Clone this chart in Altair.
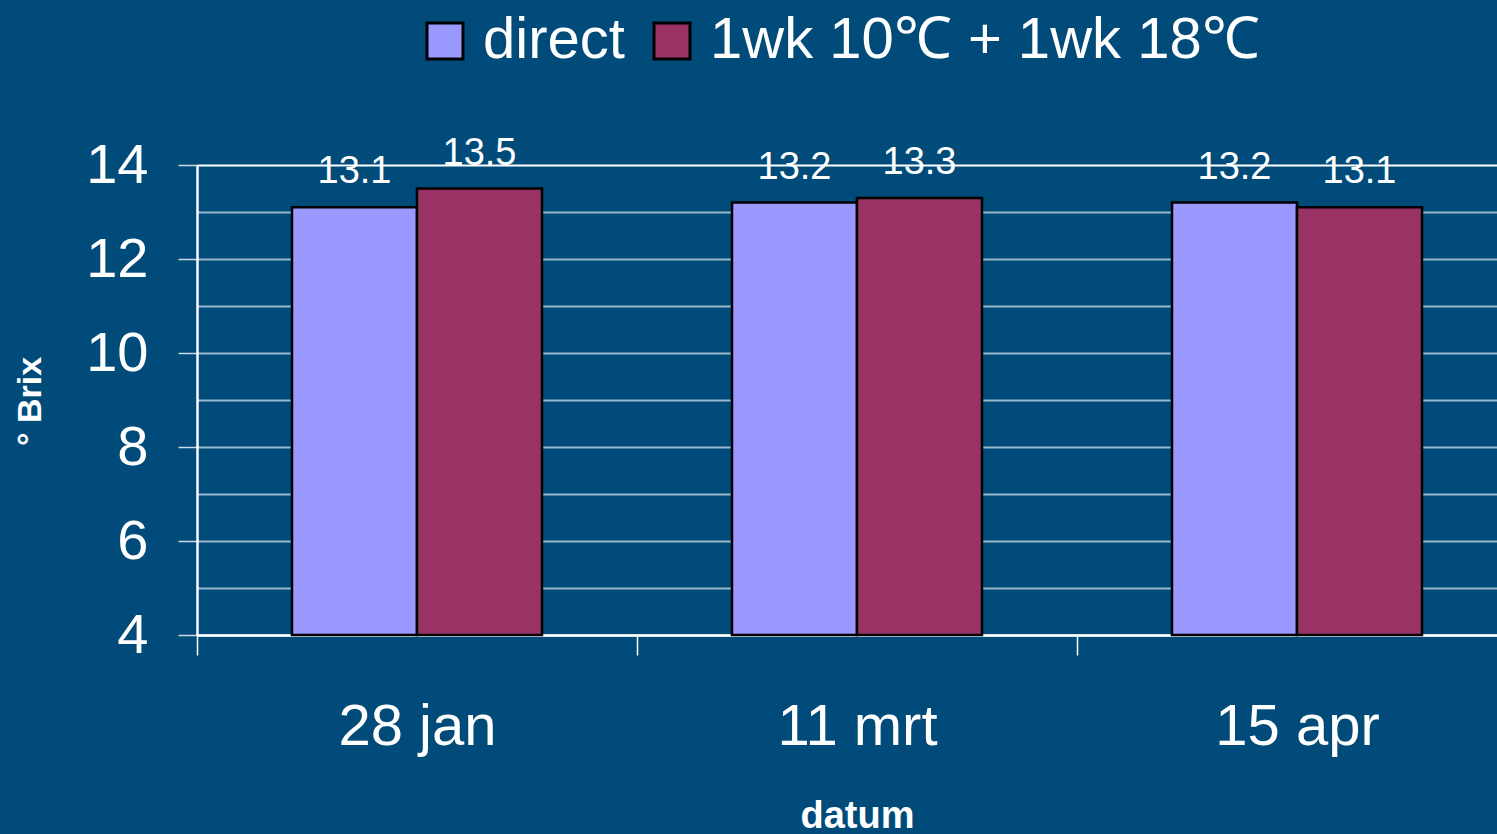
import altair as alt
import pandas as pd

dates = ["28 jan", "11 mrt", "15 apr"]
series = ["direct", "1wk 10℃ + 1wk 18℃"]
direct_vals = [13.1, 13.2, 13.2]
combo_vals = [13.5, 13.3, 13.1]
y_ticks = list(range(4, 15))
colors = ["#9999FF", "#993366"]

rows = []
for d, a, b in zip(dates, direct_vals, combo_vals):
    rows.append({"datum": d, "serie": series[0], "brix": a})
    rows.append({"datum": d, "serie": series[1], "brix": b})
df = pd.DataFrame(rows)

FONT = "Liberation Sans"
BG = "#004B7A"

# paint the page background the same colour as the chart, without the white page margin
try:
    import altair.utils.html as _h

    def _wrap(orig):
        def _render(*a, **k):
            html = orig(*a, **k)
            style = "<style>html, body { background: %s; margin: 0; overflow: hidden; }</style>" % BG
            if "<head>" in html:
                return html.replace("<head>", "<head>\n" + style, 1)
            return html
        return _render

    for _t in list(_h.TEMPLATES.values()):
        _t.render = _wrap(_t.render)
except Exception:
    pass

x_enc = alt.X(
    "datum:N",
    sort=dates,
    scale=alt.Scale(range=[0, 1320], paddingInner=0, paddingOuter=0),
    axis=alt.Axis(
        title="datum",
        labelAngle=0,
        labelFontSize=58,
        labelFont=FONT,
        labelColor="white",
        labelPadding=43,
        tickBand="extent",
        tickSize=20,
        tickColor="white",
        tickWidth=1.5,
        domainColor="white",
        domainWidth=2.5,
        titleFont=FONT,
        titleFontSize=38,
        titleFontWeight="bold",
        titleColor="white",
        titleBaseline="alphabetic",
        titleY=192,
        titleX=660,
        titleAlign="center",
        grid=False,
    ),
)
xoff = alt.XOffset("serie:N", sort=series, scale=alt.Scale(paddingInner=0, paddingOuter=0.76))

y_enc = alt.Y(
    "brix:Q",
    scale=alt.Scale(domain=[4, 14], zero=False, nice=False),
    axis=alt.Axis(
        title="° Brix",
        values=y_ticks,
        labelExpr="datum.value % 2 == 0 ? datum.label : ''",
        labelFontSize=56,
        labelFont=FONT,
        labelColor="white",
        labelPadding=30,
        tickSize=19,
        tickColor="white",
        tickWidth=1.5,
        tickOpacity={"condition": {"test": "datum.value % 2 == 1", "value": 0}, "value": 0.8},
        domainColor="white",
        domainWidth=2.5,
        grid=True,
        gridColor="white",
        gridWidth=2,
        gridOpacity={"condition": {"test": "datum.value == 4 || datum.value == 14", "value": 1}, "value": 0.6},
        titleFont=FONT,
        titleFontSize=34,
        titleFontWeight="bold",
        titleColor="white",
        titleAngle=270,
        titleAlign="center",
        titleBaseline="middle",
        titleX=-167,
        titleY=236,
    ),
)

color_enc = alt.Color(
    "serie:N",
    sort=series,
    scale=alt.Scale(domain=series, range=colors),
    legend=alt.Legend(
        title=None,
        orient="none",
        direction="horizontal",
        legendX=219,
        legendY=-153,
        padding=0,
        symbolType="square",
        symbolSize=1296,
        symbolStrokeColor="black",
        symbolStrokeWidth=3,
        symbolOpacity=1,
        labelFont=FONT,
        labelFontSize=58,
        labelColor="white",
        labelOffset=9,
        labelLimit=1000,
        columnPadding=18,
    ),
)

bars = alt.Chart(df).mark_bar(stroke="black", strokeWidth=2.5, opacity=1).encode(
    x=x_enc,
    xOffset=xoff,
    y=y_enc,
    y2=alt.datum(4),
    color=color_enc,
)

labels = alt.Chart(df).mark_text(
    dy=-24, baseline="alphabetic", fontSize=38, font=FONT, color="white"
).encode(
    x=alt.X("datum:N", sort=dates),
    xOffset=alt.XOffset("serie:N", sort=series),
    y=alt.Y("brix:Q"),
    text=alt.Text("brix:Q", format=".1f"),
)

chart = (
    alt.layer(bars, labels)
    .properties(
        width=1300,
        height=470,
        autosize=alt.AutoSizeParams(type="none"),
        padding={"left": 197, "top": 165, "right": 0, "bottom": 199},
    )
    .configure(background=BG)
    .configure_view(stroke=None)
)

chart.save("out.html", embed_options={"renderer": "svg", "actions": False})
